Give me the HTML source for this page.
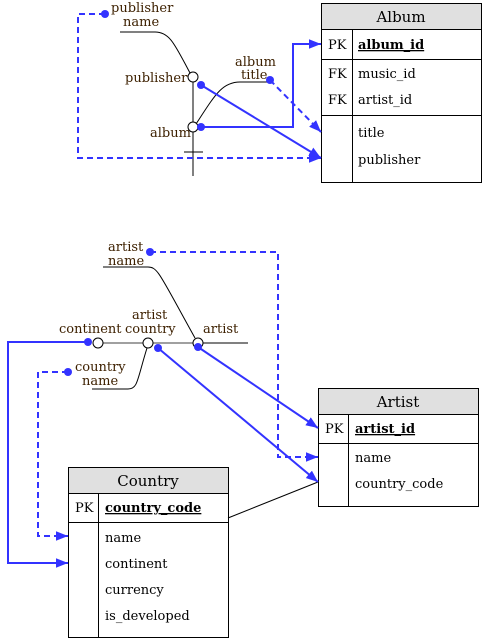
<!DOCTYPE html>
<html><head><meta charset="utf-8"><style>body{margin:0;background:#fff}svg{display:block}</style></head><body>
<svg width="483" height="639" xmlns="http://www.w3.org/2000/svg" font-family="DejaVu Serif, Liberation Serif, serif">
<defs><marker id="a" viewBox="0 0 10 10" refX="10" refY="5" markerWidth="4" markerHeight="4" orient="auto" markerUnits="userSpaceOnUse"><path d="M0,0L10,5L0,10z" fill="#3333ff"/></marker>
<marker id="b" viewBox="0 0 10 10" refX="10" refY="5" markerWidth="12" markerHeight="12" orient="auto" markerUnits="userSpaceOnUse"><path d="M0,1L10,5L0,9z" fill="#3333ff"/></marker></defs>
<g fill="none" stroke="#000" stroke-width="1">
<!-- Album table -->
<rect x="321.5" y="3.5" width="160" height="179" fill="#fff"/>
<rect x="321.5" y="3.5" width="160" height="26" fill="#e0e0e0"/>
<line x1="321" y1="59.5" x2="482" y2="59.5"/><line x1="321" y1="115.5" x2="482" y2="115.5"/>
<line x1="352.5" y1="29" x2="352.5" y2="182"/>
<!-- Artist -->
<rect x="318.5" y="388.5" width="160" height="118" fill="#fff"/>
<rect x="318.5" y="388.5" width="160" height="26" fill="#e0e0e0"/>
<line x1="318" y1="443.5" x2="479" y2="443.5"/><line x1="348.5" y1="414" x2="348.5" y2="506"/>
<!-- Country -->
<rect x="68.5" y="467.5" width="160" height="170" fill="#fff"/>
<rect x="68.5" y="467.5" width="160" height="26" fill="#e0e0e0"/>
<line x1="68" y1="522.5" x2="229" y2="522.5"/><line x1="98.5" y1="493" x2="98.5" y2="637"/>
<line x1="228" y1="518" x2="318" y2="482"/>
<!-- top graph -->
<line x1="193" y1="82" x2="193" y2="176"/><line x1="184" y1="152" x2="203" y2="152"/>
<path d="M120,32H155C170,32 175,45 190,73"/>
<path d="M196,124C215,95 222,82 240,82H270"/>
<!-- bottom graph -->
<line x1="103" y1="343" x2="193" y2="343" stroke="#808080" stroke-width="1.5"/>
<line x1="203" y1="343" x2="248" y2="343"/>
<path d="M103,267H148C158,267 160,275 195,338"/>
<path d="M92,389H128C138,389 137,380 147,348"/>
</g>
<g fill="#fff" stroke="#000"><circle cx="193" cy="77" r="5"/><circle cx="193" cy="127" r="5"/>
<circle cx="98" cy="343" r="5"/><circle cx="148" cy="343" r="5"/><circle cx="198" cy="343" r="5"/></g>
<g fill="none" stroke="#3333ff" stroke-width="2">
<path d="M105,14H78V158H321" stroke-dasharray="6,4" marker-end="url(#b)"/>
<path d="M201,85L321,158" marker-end="url(#b)"/>
<path d="M201,127H293V44H321" marker-end="url(#b)"/>
<path d="M270,80L321,132" stroke-dasharray="6,4" marker-end="url(#b)"/>
<path d="M88,342H8V563H68" marker-end="url(#b)"/>
<path d="M68,372H38V536H68" stroke-dasharray="6,4" marker-end="url(#b)"/>
<path d="M150,252H278V457H318" stroke-dasharray="6,4" marker-end="url(#b)"/>
<path d="M158,348L318,482" marker-end="url(#b)"/>
<path d="M198,347L318,428" marker-end="url(#b)"/>
</g>
<g fill="#3333ff"><circle cx="105" cy="14" r="4"/><circle cx="201" cy="85" r="4"/><circle cx="201" cy="127" r="4"/><circle cx="270" cy="80" r="4"/>
<circle cx="88" cy="342" r="4"/><circle cx="68" cy="372" r="4"/><circle cx="150" cy="252" r="4"/><circle cx="158" cy="348" r="4"/><circle cx="198" cy="347" r="4"/></g>
<g font-size="13" fill="#3d2000">
<text x="111" y="12">publisher</text><text x="123" y="26">name</text>
<text x="125" y="82">publisher</text><text x="150" y="137">album</text>
<text x="235" y="66">album</text><text x="241" y="79">title</text>
<text x="108" y="251">artist</text><text x="108" y="265">name</text>
<text x="59" y="333">continent</text><text x="132" y="319">artist</text><text x="125" y="333">country</text>
<text x="203" y="333">artist</text>
<text x="75" y="371">country</text><text x="82" y="385">name</text>
</g>
<g font-size="15" fill="#000" text-anchor="middle">
<text x="401" y="22">Album</text><text x="398" y="407">Artist</text><text x="148" y="486">Country</text></g>
<g font-size="13" fill="#000">
<text x="328" y="49">PK</text><text x="358" y="49" font-weight="bold" text-decoration="underline">album_id</text>
<text x="328" y="78">FK</text><text x="358" y="78">music_id</text>
<text x="328" y="104">FK</text><text x="358" y="104">artist_id</text>
<text x="358" y="137">title</text><text x="358" y="164">publisher</text>
<text x="325" y="433">PK</text><text x="355" y="433" font-weight="bold" text-decoration="underline">artist_id</text>
<text x="355" y="462">name</text><text x="355" y="488">country_code</text>
<text x="75" y="512">PK</text><text x="105" y="512" font-weight="bold" text-decoration="underline">country_code</text>
<text x="105" y="542">name</text><text x="105" y="568">continent</text><text x="105" y="594">currency</text><text x="105" y="620">is_developed</text>
</g>
</svg>
</body></html>
